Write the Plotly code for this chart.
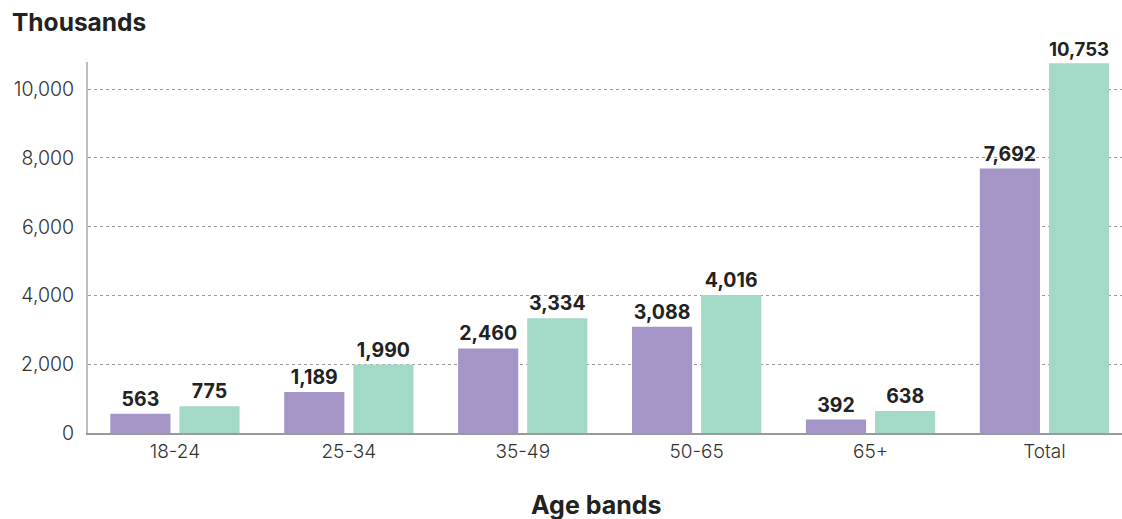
import plotly.graph_objects as go

categories = ["18-24", "25-34", "35-49", "50-65", "65+", "Total"]
series_a = [563, 1189, 2460, 3088, 392, 7692]
series_b = [775, 1990, 3334, 4016, 638, 10753]
y_ticks = [0, 2000, 4000, 6000, 8000, 10000]

PURPLE = "#a594c6"
GREEN = "#a3d9c7"
FONT = "Inter"

fig = go.Figure()
for vals, color in ((series_a, PURPLE), (series_b, GREEN)):
    fig.add_trace(go.Bar(
        x=categories, y=vals, marker_color=color, marker_line_width=0,
        text=[f"{v:,}" for v in vals], textposition="outside",
        textfont=dict(family=FONT, size=19.5, color="#222222", weight=700),
        cliponaxis=False, showlegend=False,
    ))

fig.update_layout(
    width=1122, height=519,
    margin=dict(l=88, r=0, t=62, b=86),
    paper_bgcolor="white", plot_bgcolor="white",
    barmode="group", bargap=0.205, bargroupgap=0.13,
    font=dict(family=FONT, color="#333333", size=17),
    xaxis=dict(
        range=[-0.5, 5.446], showgrid=False, ticks="",
        showline=True, linecolor="#9a9a9a", linewidth=2,
        tickfont=dict(size=19, color="#333333", weight=300),
    ),
    yaxis=dict(
        range=[0, 10790], tickvals=y_ticks,
        ticktext=[f"{v:,}" for v in y_ticks],
        showgrid=True, gridcolor="#9a9a9a", griddash="dot", gridwidth=1,
        showline=True, linecolor="#bdbdbd", linewidth=2,
        zeroline=False, ticks="", ticklabelstandoff=8,
        tickfont=dict(size=19.5, color="#333333", weight=300),
    ),
    annotations=[
        dict(text="Thousands", x=10, y=22, xref="paper", yref="paper",
             xanchor="left", yanchor="middle", showarrow=False,
             font=dict(family=FONT, size=24.5, color="#222222", weight=700)),
        dict(text="Age bands", x=596, y=505, xref="paper", yref="paper",
             xanchor="center", yanchor="middle", showarrow=False,
             font=dict(family=FONT, size=25, color="#222222", weight=700)),
    ],
)

# Annotation positions are given in pixels; convert to paper fractions.
W, H, L, R, T, B = 1122, 519, 88, 0, 62, 86
pw, ph = W - L - R, H - T - B
for ann in fig.layout.annotations:
    ann.x = (ann.x - L) / pw
    ann.y = 1 - (ann.y - T) / ph

fig.write_html("out.html")
